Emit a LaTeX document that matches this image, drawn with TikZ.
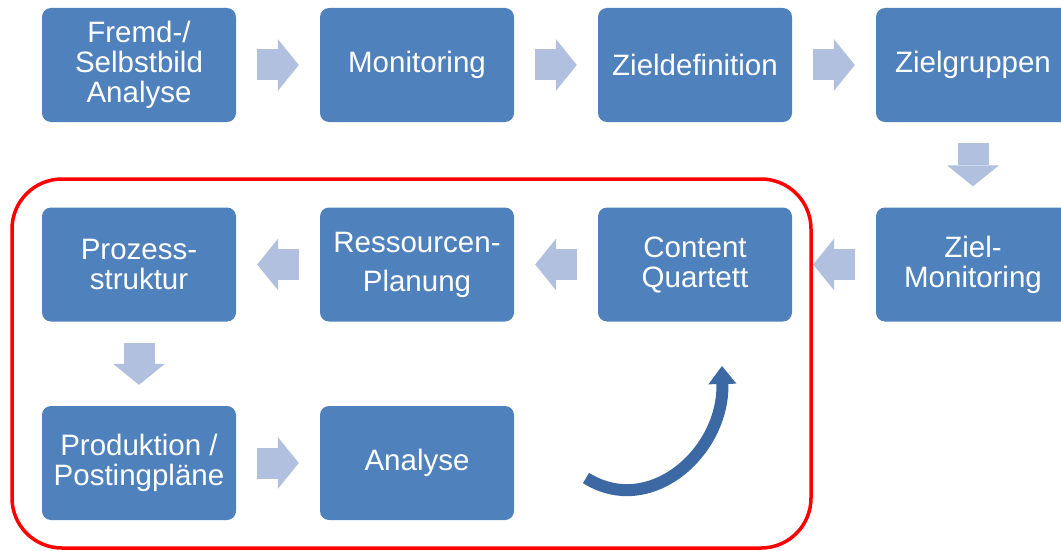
\documentclass[tikz,border=0pt]{standalone}
\usepackage{fontspec}
\setmainfont{Liberation Sans}
\usetikzlibrary{arrows.meta}
\definecolor{boxblue}{HTML}{4F81BD}
\definecolor{arrowblue}{HTML}{B0C0DE}
\definecolor{curveblue}{HTML}{3C69A3}

\begin{document}
\begin{tikzpicture}[x=1pt, y=-1pt,
    box/.style={rectangle, rounded corners=9pt, fill=boxblue, text=white, minimum width=194pt, minimum height=114pt, align=center, font=\fontsize{29.5}{30}\selectfont},
    flow/.style={arrowblue, line width=31pt, shorten <=21pt, shorten >=21pt, -{Triangle[length=21pt, width=52pt, line width=0pt]}},
    curve/.style={curveblue, line width=12pt, -{Triangle[length=18pt, width=28pt, line width=0pt]}},
    frame/.style={red, line width=3.5pt, rounded corners=50pt}
]
\clip (0,0) rectangle (1061,551);

% Nodes
\node[box] (1) at (139,65) {Fremd-/\\Selbstbild\\Analyse};
\node[box] (2) at (417,65) {Monitoring};
\node[box] (3) at (695,65) {Zieldefinition};
\node[box] (4) at (973,65) {Zielgruppen};
\node[box] (5) at (973,264.5) {Ziel-\\Monitoring};
\node[box] (6) at (695,264.5) {Content\\Quartett};
\node[box] (7) at (417,264.5) {Ressourcen-\\[9pt]Planung};
\node[box] (8) at (139,264.5) {Prozess-\\struktur};
\node[box] (9) at (139,463) {Produktion /\\Postingpläne};
\node[box] (10) at (417,463) {Analyse};

% Frame
\draw[frame] (12,179) rectangle (811,548);

% Edges
\draw[flow] (1) -- (2);
\draw[flow] (2) -- (3);
\draw[flow] (3) -- (4);
\draw[flow] (4) -- (5);
\draw[flow] (5) -- (6);
\draw[flow] (6) -- (7);
\draw[flow] (7) -- (8);
\draw[flow] (8) -- (9);
\draw[flow] (9) -- (10);

% Loop back
\coordinate (t) at (586,478);
\coordinate (h) at (722,366);
\draw[curve] (t) .. controls (650,518) and (724,452) .. (h);

\end{tikzpicture}
\end{document}
